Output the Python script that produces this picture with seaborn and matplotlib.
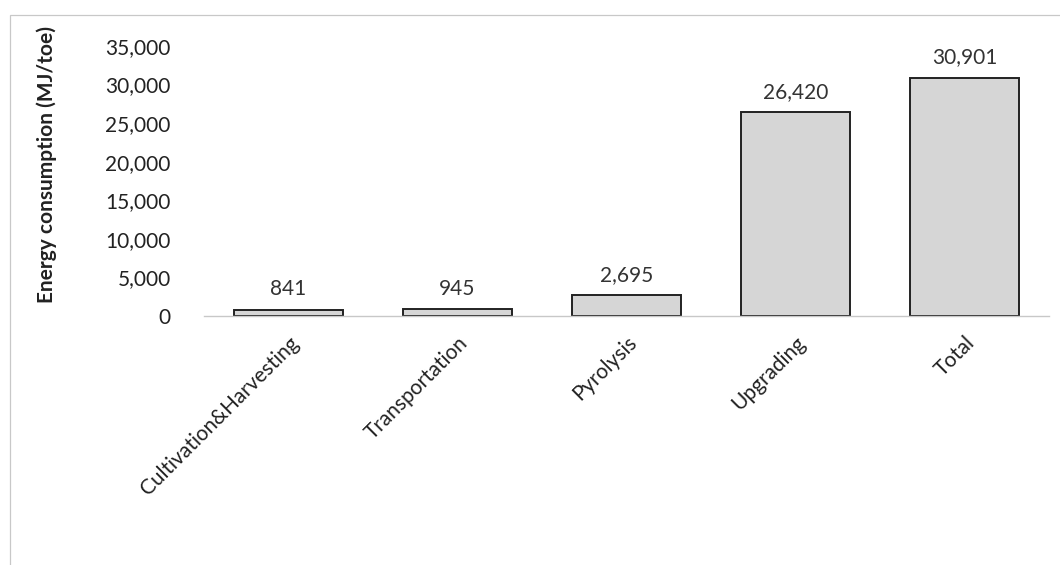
import matplotlib
matplotlib.use("Agg")
import matplotlib.pyplot as plt
import seaborn as sns
import pandas as pd
from matplotlib.patches import Rectangle

stages = ["Cultivation&Harvesting", "Transportation", "Pyrolysis", "Upgrading", "Total"]
energy = [841, 945, 2695, 26420, 30901]
y_ticks = [0, 5000, 10000, 15000, 20000, 25000, 30000, 35000]

df = pd.DataFrame({"stage": stages, "energy": energy})

sns.set_theme(style="white")
plt.rcParams["font.family"] = ["Lato", "DejaVu Sans"]

fig = plt.figure(figsize=(10.6, 5.65), dpi=100)
ax = fig.add_axes([204 / 1060, 1 - 316 / 565, 845 / 1060, 270 / 565])

sns.barplot(data=df, x="stage", y="energy", ax=ax, color="#d6d6d6",
            edgecolor="#222222", linewidth=1.4, width=0.645, saturation=1)

ax.set_ylim(0, 35000)
ax.set_xlim(-0.5, 4.5)
ax.set_yticks(y_ticks)
ax.set_yticklabels([f"{v:,}" for v in y_ticks], fontsize=15, color="#222222")
ax.tick_params(axis="y", length=0, pad=24)
ax.tick_params(axis="x", length=0, pad=12)
ax.set_xticks(range(len(stages)))
ax.set_xticklabels(stages, rotation=45, ha="right", rotation_mode="anchor",
                   fontsize=15, color="#222222")
ax.set_xlabel("")
ax.set_ylabel("Energy consumption (MJ/toe)", fontsize=15, fontweight="bold",
              color="#222222")
ax.yaxis.set_label_coords(-0.174, 0.56)

for s in ["top", "right", "left"]:
    ax.spines[s].set_visible(False)
ax.spines["bottom"].set_color("#c8c8c8")
ax.spines["bottom"].set_linewidth(1.0)

for i, v in enumerate(energy):
    ax.text(i, v + 1300, f"{v:,}", ha="center", va="bottom", fontsize=15,
            color="#333333")

# thin chart-area border
fig.patches.append(Rectangle((10 / 1060, -0.01), 1.02, 1 - 15 / 565 + 0.01,
                             transform=fig.transFigure, fill=False,
                             edgecolor="#c8c8c8", linewidth=0.9))

fig.savefig("out.png", dpi=100)
